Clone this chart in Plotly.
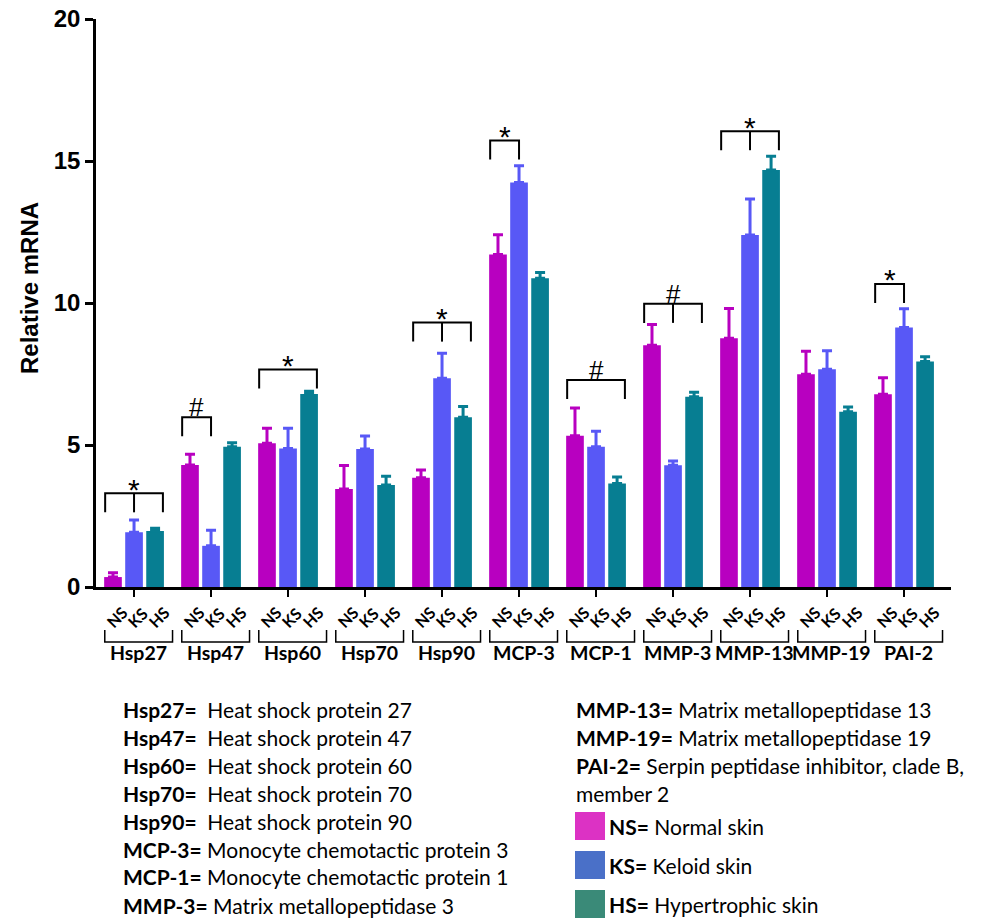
import plotly.graph_objects as go

# ---------------- data ----------------
groups = ["Hsp27", "Hsp47", "Hsp60", "Hsp70", "Hsp90", "MCP-3", "MCP-1",
          "MMP-3", "MMP-13", "MMP-19", "PAI-2"]
series = ["NS", "KS", "HS"]
ns_mean = [0.35, 4.30, 5.06, 3.45, 3.85, 11.71, 5.33, 8.51, 8.76, 7.49, 6.79]
ns_top = [0.50, 4.67, 5.59, 4.28, 4.12, 12.40, 6.30, 9.24, 9.81, 8.30, 7.37]
ks_mean = [1.93, 1.45, 4.88, 4.86, 7.35, 14.24, 4.94, 4.29, 12.39, 7.67, 9.14]
ks_top = [2.36, 2.00, 5.59, 5.32, 8.23, 14.83, 5.48, 4.44, 13.66, 8.32, 9.80]
hs_mean = [1.97, 4.94, 6.80, 3.59, 5.98, 10.87, 3.64, 6.70, 14.68, 6.17, 7.94]
hs_top = [2.07, 5.08, 6.89, 3.90, 6.36, 11.07, 3.87, 6.86, 15.17, 6.34, 8.11]

# significance brackets
sig_group = ["Hsp27", "Hsp47", "Hsp60", "Hsp90", "MCP-3", "MCP-1", "MMP-3", "MMP-13", "PAI-2"]
sig_mark = ["*", "#", "*", "*", "*", "#", "#", "*", "*"]
sig_to = ["HS", "KS", "HS", "HS", "KS", "HS", "HS", "HS", "KS"]
sig_mid = [True, False, False, True, False, False, True, True, False]
sig_level = [3.30, 5.98, 7.66, 9.31, 15.72, 7.29, 9.97, 16.05, 10.67]

y_ticks = [0, 5, 10, 15, 20]

legend_left_abbr = ["Hsp27=", "Hsp47=", "Hsp60=", "Hsp70=", "Hsp90=", "MCP-3=", "MCP-1=", "MMP-3="]
legend_left_desc = ["\u00a0 Heat shock protein 27", "\u00a0 Heat shock protein 47",
                    "\u00a0 Heat shock protein 60", "\u00a0 Heat shock protein 70",
                    "\u00a0 Heat shock protein 90", " Monocyte chemotactic protein 3",
                    " Monocyte chemotactic protein 1", " Matrix metallopeptidase 3"]
legend_right_abbr = ["MMP-13=", "MMP-19=", "PAI-2=", ""]
legend_right_desc = [" Matrix metallopeptidase 13", " Matrix metallopeptidase 19",
                     " Serpin peptidase inhibitor, clade B,", "member 2"]
series_desc = ["Normal skin", "Keloid skin", "Hypertrophic skin"]

# ---------------- style ----------------
W, H = 988, 918
ML, MR, MT, MB = 96, 37, 19, 331
PW, PH = W - ML - MR, H - MT - MB
bar_colors = ["#b800c0", "#5858f6", "#077e92"]
box_colors = ["#dc32c4", "#4a70c8", "#3a8a78"]
offsets = {"NS": -0.273, "KS": 0.0, "HS": 0.273}
leg_pos = {"NS": -0.375, "KS": 0.0, "HS": 0.375}
leg_len = 0.67
ARIAL = "Liberation Sans, Arial"
CAL = "Lato"


def pxx(px):  # page pixel -> paper x
    return (px - ML) / PW


def pxy(py):  # page pixel -> paper y
    return (MT + PH - py) / PH


means = [ns_mean, ks_mean, hs_mean]
tops = [ns_top, ks_top, hs_top]

fig = go.Figure()
for s, m, t, c in zip(series, means, tops, bar_colors):
    fig.add_trace(go.Bar(
        x=groups, y=m, name=s, marker=dict(color=c, line=dict(width=0)),
        error_y=dict(type="data", symmetric=False,
                     array=[b - a for a, b in zip(m, t)],
                     arrayminus=[0] * len(m), color=c, thickness=3, width=5),
        showlegend=False))

shapes = []
annotations = []

# significance brackets
for g, mk, to, mid, lv in zip(sig_group, sig_mark, sig_to, sig_mid, sig_level):
    gi = groups.index(g)
    x0 = gi + leg_pos["NS"]
    x1 = gi + leg_pos[to]
    path = f"M {x0},{lv - leg_len} L {x0},{lv} L {x1},{lv} L {x1},{lv - leg_len}"
    shapes.append(dict(type="path", xref="x", yref="y", path=path,
                       line=dict(color="black", width=2)))
    if mid:
        shapes.append(dict(type="line", xref="x", yref="y", x0=gi, x1=gi,
                           y0=lv, y1=lv - leg_len, line=dict(color="black", width=2)))
    annotations.append(dict(x=(x0 + x1) / 2, y=lv, xref="x", yref="y", text=mk,
                            showarrow=False, xanchor="center", yanchor="middle",
                            yshift=10 if mk == "#" else 4,
                            font=dict(family=ARIAL, size=26 if mk == "#" else 30, color="black")))

# category labels below the axis
for gi, g in enumerate(groups):
    for s in series:
        annotations.append(dict(x=gi + offsets[s], y=pxy(617), xref="x", yref="paper",
                                text=s, showarrow=False, textangle=-45, xshift=3,
                                xanchor="center", yanchor="middle",
                                font=dict(family=CAL, size=16, color="black", weight="bold")))
    bx0, bx1 = gi - 0.38, gi + 0.50
    shapes.append(dict(type="path", xref="x", yref="paper",
                       path=f"M {bx0},{pxy(630)} L {bx0},{pxy(642)} L {bx1},{pxy(642)} L {bx1},{pxy(630)}",
                       line=dict(color="black", width=1.5)))
    annotations.append(dict(x=(bx0 + bx1) / 2, y=pxy(652), xref="x", yref="paper",
                            text=g, showarrow=False, xanchor="center", yanchor="middle",
                            font=dict(family=CAL, size=19.5, color="black", weight="bold")))

# y-axis title
annotations.append(dict(x=pxx(29), y=pxy(288), xref="paper", yref="paper",
                        text="<b>Relative mRNA</b>", textangle=-90, showarrow=False,
                        xanchor="center", yanchor="middle",
                        font=dict(family=ARIAL, size=24, color="black")))

# legend text, left column
for i, (a, d) in enumerate(zip(legend_left_abbr, legend_left_desc)):
    annotations.append(dict(x=pxx(121), y=pxy(709 + 28 * i), xref="paper", yref="paper",
                            xanchor="left", yanchor="middle", showarrow=False,
                            text=f"<b>{a}</b>{d}",
                            font=dict(family=CAL, size=21, color="black")))
# right column
for i, (a, d) in enumerate(zip(legend_right_abbr, legend_right_desc)):
    txt = (f"<b>{a}</b>{d}" if a else d)
    annotations.append(dict(x=pxx(574), y=pxy(709 + 28 * i), xref="paper", yref="paper",
                            xanchor="left", yanchor="middle", showarrow=False, text=txt,
                            font=dict(family=CAL, size=21, color="black")))
for i, (s, d, c) in enumerate(zip(series, series_desc, box_colors)):
    yc = 826 + 39 * i
    shapes.append(dict(type="rect", xref="paper", yref="paper",
                       x0=pxx(575), x1=pxx(605), y0=pxy(yc - 14), y1=pxy(yc + 14),
                       fillcolor=c, line=dict(width=0)))
    annotations.append(dict(x=pxx(607), y=pxy(yc), xref="paper", yref="paper",
                            xanchor="left", yanchor="middle", showarrow=False,
                            text=f"<b>{s}=</b> {d}",
                            font=dict(family=CAL, size=21, color="black")))

fig.update_layout(
    width=W, height=H, margin=dict(l=ML, r=MR, t=MT, b=MB, pad=0, autoexpand=False),
    paper_bgcolor="white", plot_bgcolor="white",
    barmode="group", bargap=0.18, bargroupgap=0.16,
    shapes=shapes, annotations=annotations,
    xaxis=dict(range=[-0.494, 10.61], showgrid=False, zeroline=False, automargin=False,
               showline=True, linecolor="black", linewidth=2.5,
               ticks="outside", ticklen=7, tickwidth=2, tickcolor="black",
               showticklabels=False),
    yaxis=dict(range=[0, 20], tickvals=y_ticks, showgrid=False, zeroline=False,
               automargin=False, ticklabeloverflow="allow",
               showline=True, linecolor="black", linewidth=2.5,
               ticks="outside", ticklen=8, tickwidth=2.5, tickcolor="black",
               tickfont=dict(family=ARIAL, size=24, color="black", weight="bold")),
)

fig.write_html("out.html", config={"displayModeBar": False},
               post_script="document.body.style.margin='0px';document.body.style.overflow='hidden';")
